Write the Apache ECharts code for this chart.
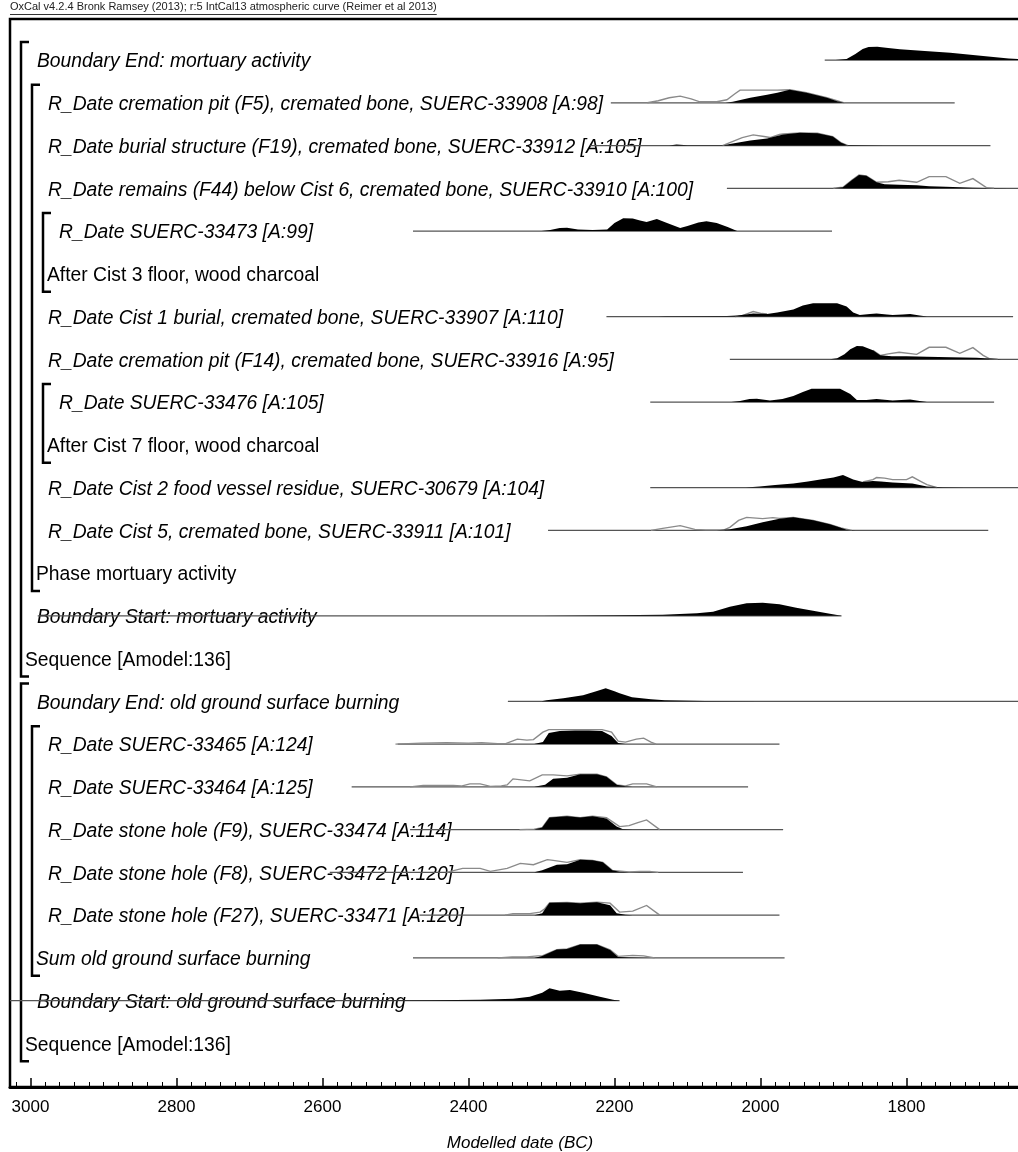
<!DOCTYPE html>
<html>
<head>
<meta charset="utf-8">
<title>OxCal multiplot</title>
<script src="https://cdn.jsdelivr.net/npm/echarts@6/dist/echarts.min.js"></script>
<style>
html,body{margin:0;padding:0;background:#fff;}
#main{width:1018px;height:1152px;}
</style>
</head>
<body>
<div id="main"></div>
<script>
// rows of the plot, top to bottom
var rowLabels = [
  'Boundary End: mortuary activity',
  'R_Date cremation pit (F5), cremated bone, SUERC-33908 [A:98]',
  'R_Date burial structure (F19), cremated bone, SUERC-33912 [A:105]',
  'R_Date remains (F44) below Cist 6, cremated bone, SUERC-33910 [A:100]',
  'R_Date SUERC-33473 [A:99]',
  'After Cist 3 floor, wood charcoal',
  'R_Date Cist 1 burial, cremated bone, SUERC-33907 [A:110]',
  'R_Date cremation pit (F14), cremated bone, SUERC-33916 [A:95]',
  'R_Date SUERC-33476 [A:105]',
  'After Cist 7 floor, wood charcoal',
  'R_Date Cist 2 food vessel residue, SUERC-30679 [A:104]',
  'R_Date Cist 5, cremated bone, SUERC-33911 [A:101]',
  'Phase mortuary activity',
  'Boundary Start: mortuary activity',
  'Sequence [Amodel:136]',
  'Boundary End: old ground surface burning',
  'R_Date SUERC-33465 [A:124]',
  'R_Date SUERC-33464 [A:125]',
  'R_Date stone hole (F9), SUERC-33474 [A:114]',
  'R_Date stone hole (F8), SUERC-33472 [A:120]',
  'R_Date stone hole (F27), SUERC-33471 [A:120]',
  'Sum old ground surface burning',
  'Boundary Start: old ground surface burning',
  'Sequence [Amodel:136]'
];
var rowDepth = [1,2,2,2,3,3,2,2,3,3,2,2,2,1,1,1,2,2,2,2,2,2,1,1];
var rowKind = ['item','item','item','item','item','group','item','item','item','group','item','item',
  'group','item','group','item','item','item','item','item','item','groupi','item','group'];
// brackets: [depth, first row, last row]
var groups = [[1,0,14],[2,1,12],[3,4,5],[3,8,9],[1,15,23],[2,16,21]];

// distributions: range = [from, to] years BC, points = [year BC, relative probability]
var bEndMortRange = [1912, 1600];
var bEndMortPost = [[1897,0],[1882,1],[1870,6],[1860,11],[1852,13],[1840,13.2],[1825,12],[1809,10.7],[1775,9],[1740,7.3],[1695,4],[1660,1.5],[1620,0.3],[1600,0]];

var f5Range = [2205, 1734];
var f5Post = [[2048,0],[2038,1],[2014,5],[1991,8],[1977,10],[1960,13],[1937,10],[1909,5],[1895,1.5],[1885,0]];
var f5Like = [[2155,0],[2140,2],[2125,5],[2110,6.7],[2095,4],[2083,1],[2060,1],[2046,3],[2035,9],[2028,12.7],[1990,12.7],[1977,12.7],[1960,13],[1937,10],[1909,5],[1885,0]];

var f19Range = [2233, 1685];
var f19Post = [[2125,0],[2115,1],[2100,0.3],[2050,0.3],[2042,1.5],[2014,5],[1991,7],[1969,11],[1946,12.7],[1922,12.3],[1901,9],[1890,3],[1882,0.5],[1860,0.3],[1830,0]];
var f19Like = [[2052,0],[2042,3],[2025,8],[2010,10.7],[1995,9],[1987,8],[1974,11],[1969,11.5],[1946,12.7],[1922,12.3],[1901,9],[1890,3],[1880,0]];

var f44Range = [2046, 1600];
var f44Post = [[1900,0],[1887,1],[1875,8],[1865,13.3],[1855,12.5],[1841,6],[1830,4],[1810,3.5],[1786,3],[1769,2],[1746,1.5],[1727,1],[1709,0.5],[1690,0.2],[1660,0]];
var f44Like = [[1900,0],[1887,1],[1875,8],[1865,13.3],[1855,12.5],[1841,6],[1825,6.5],[1810,8],[1786,6],[1769,11.7],[1746,11.7],[1727,5],[1709,9.7],[1690,0.5],[1680,0]];

var s33473Range = [2476, 1902];
var s33473Post = [[2300,0],[2288,1],[2275,3],[2265,3.3],[2250,1.5],[2230,1],[2210,1.5],[2200,8],[2188,12.7],[2175,12.5],[2165,10.5],[2156,9],[2142,12],[2128,8],[2110,3],[2100,5],[2085,8.5],[2074,9.7],[2060,8],[2045,4],[2032,0]];

var cist1Range = [2211, 1654];
var cist1Post = [[2140,0],[2130,0.3],[2046,0.5],[2032,1],[2020,2],[2010,3],[1991,2.5],[1977,4],[1955,7],[1942,11],[1928,13.3],[1895,13.3],[1882,10],[1873,4],[1864,1.5],[1850,2.5],[1841,3],[1827,2],[1819,1.5],[1805,2],[1795,2.5],[1782,1],[1772,0]];
var cist1Like = [[2035,0],[2025,1],[2010,5],[1998,3],[1991,2.5]];

var f14Range = [2042, 1600];
var f14Post = [[1905,0],[1895,1],[1885,5],[1877,10],[1868,13.3],[1860,13],[1846,9],[1836,4],[1820,3],[1800,3],[1772,2.5],[1740,2],[1704,1.5],[1681,0.5],[1670,0]];
var f14Like = [[1846,9],[1836,4],[1825,5.5],[1810,7],[1786,5],[1769,12],[1746,12],[1727,6],[1709,11.7],[1695,4],[1686,0.5],[1675,0]];

var s33476Range = [2151, 1680];
var s33476Post = [[2040,0],[2028,1],[2015,3],[2005,3.3],[1987,1.5],[1970,3],[1955,6],[1942,10],[1930,13.3],[1891,13.3],[1877,8],[1868,2],[1855,2],[1841,3],[1819,1.5],[1795,2.5],[1782,1],[1772,0]];

var cist2Range = [2151, 1600];
var cist2Post = [[2020,0],[2001,1],[1980,2.5],[1955,4],[1935,6],[1918,8],[1900,10],[1887,12.7],[1873,8],[1860,5.7],[1846,6.7],[1835,6],[1819,5],[1792,4],[1772,1],[1750,0.3],[1720,0]];
var cist2Like = [[1860,5.7],[1846,8],[1841,10],[1830,9.5],[1819,8],[1800,8],[1792,10.7],[1780,6],[1772,3],[1758,0]];

var cist5Range = [2291, 1688];
var cist5Post = [[2060,0],[2042,1],[2019,4],[1997,8],[1974,11.7],[1955,13],[1928,10],[1905,6],[1890,2.5],[1882,0.5],[1870,0]];
var cist5Like = [[2150,0],[2134,2],[2110,4.7],[2090,1],[2075,0.5],[2050,0.5],[2042,3],[2030,10],[2019,13],[1997,11.7],[1983,12.7],[1974,12],[1955,13],[1928,10],[1905,6],[1890,2.5],[1875,0]];

var bStartMortRange = [2990, 1889];
var bStartMortPost = [[2300,0],[2202,0.5],[2134,1.2],[2087,2.5],[2065,4],[2042,9],[2019,12.7],[1997,13],[1974,11.7],[1951,8],[1928,5],[1905,2],[1889,0]];

var bEndOldRange = [2346, 1600];
var bEndOldPost = [[2300,0],[2293,1],[2270,3],[2243,6],[2225,10],[2212,13],[2200,10],[2193,8],[2176,4],[2150,2],[2131,1],[2076,0.3],[2000,0]];

var s33465Range = [2497, 1974];
var s33465Post = [[2310,0],[2298,2],[2290,11],[2275,13],[2254,13.5],[2235,13.5],[2217,13],[2204,8],[2195,1],[2185,0]];
var s33465Like = [[2500,0],[2465,1],[2430,1.5],[2400,1],[2382,1.5],[2360,0.5],[2349,0.5],[2333,5],[2320,4],[2311,4.5],[2298,12],[2290,14.5],[2217,14.5],[2204,12],[2195,3],[2185,2],[2170,5],[2160,6],[2150,2],[2143,0]];

var s33464Range = [2560, 2017];
var s33464Post = [[2310,0],[2295,2],[2284,8],[2265,9],[2247,12.7],[2224,12.7],[2211,10],[2197,2],[2185,0.5],[2175,0]];
var s33464Like = [[2480,0],[2462,1.5],[2421,1.5],[2410,0.8],[2398,3],[2384,3],[2370,0.5],[2355,1],[2347,2],[2339,8],[2316,6],[2299,12],[2284,12],[2265,11],[2247,12.7],[2224,12.7],[2211,10],[2197,2],[2185,1],[2175,3],[2156,3],[2142,0]];

var f9Range = [2480, 1969];
var f9Post = [[2310,0],[2299,2],[2289,12],[2265,13.3],[2247,12],[2230,13.3],[2211,11],[2197,3],[2189,0.5],[2175,0]];
var f9Like = [[2330,0],[2310,0.5],[2299,2],[2289,12],[2265,13.3],[2247,12],[2230,13.3],[2211,12],[2203,8],[2193,3],[2180,4],[2168,7],[2156,9.7],[2138,0]];

var f8Range = [2590, 2024];
var f8Post = [[2310,0],[2299,2],[2279,7.7],[2265,8],[2247,12.7],[2230,12],[2216,10],[2203,2],[2193,0.5],[2180,0]];
var f8Like = [[2430,0],[2408,4],[2384,4],[2370,1],[2347,4],[2329,9],[2311,7.7],[2292,12.7],[2284,12],[2265,10],[2247,12.7],[2230,12],[2216,10],[2203,2],[2180,0.5],[2165,1],[2152,1],[2140,0]];

var f27Range = [2467, 1974];
var f27Post = [[2310,0],[2299,2],[2289,12.3],[2265,12.7],[2247,12],[2224,13],[2206,10],[2197,2],[2185,0.5],[2175,0]];
var f27Like = [[2350,0],[2339,1.5],[2316,1.5],[2302,3],[2296,6],[2289,12.3],[2265,12.7],[2247,12],[2224,13],[2206,12],[2193,3],[2175,4],[2156,9.7],[2138,0]];

var sumOldRange = [2476, 1967];
var sumOldPost = [[2310,0],[2299,2],[2279,8.3],[2265,9],[2247,13.3],[2224,13.3],[2206,8],[2195,1],[2180,0.3],[2150,0]];
var sumOldLike = [[2360,0],[2340,1],[2320,1],[2305,2],[2299,2],[2279,8.3],[2265,9],[2247,13.3],[2224,13.3],[2206,8],[2195,1.5],[2175,2.5],[2160,2],[2145,0]];

var bStartOldRange = [3028, 2193];
var bStartOldPost = [[2600,0],[2450,0.3],[2384,0.8],[2339,2],[2316,4],[2299,8],[2289,12.3],[2275,10],[2261,10.7],[2243,8],[2220,4],[2202,1],[2193,0]];

var dists = [
  {row:0, range:bEndMortRange, post:bEndMortPost, like:null},
  {row:1, range:f5Range, post:f5Post, like:f5Like},
  {row:2, range:f19Range, post:f19Post, like:f19Like},
  {row:3, range:f44Range, post:f44Post, like:f44Like},
  {row:4, range:s33473Range, post:s33473Post, like:null},
  {row:6, range:cist1Range, post:cist1Post, like:cist1Like},
  {row:7, range:f14Range, post:f14Post, like:f14Like},
  {row:8, range:s33476Range, post:s33476Post, like:null},
  {row:10, range:cist2Range, post:cist2Post, like:cist2Like},
  {row:11, range:cist5Range, post:cist5Post, like:cist5Like},
  {row:13, range:bStartMortRange, post:bStartMortPost, like:null},
  {row:15, range:bEndOldRange, post:bEndOldPost, like:null},
  {row:16, range:s33465Range, post:s33465Post, like:s33465Like},
  {row:17, range:s33464Range, post:s33464Post, like:s33464Like},
  {row:18, range:f9Range, post:f9Post, like:f9Like},
  {row:19, range:f8Range, post:f8Post, like:f8Like},
  {row:20, range:f27Range, post:f27Post, like:f27Like},
  {row:21, range:sumOldRange, post:sumOldPost, like:sumOldLike},
  {row:22, range:bStartOldRange, post:bStartOldPost, like:null}
];

var FONT = '"Liberation Sans", Arial, Helvetica, sans-serif';
var densScale = 1 / 42.75;   // probability unit -> row units

var chart = echarts.init(document.getElementById('main'));

function renderLabel(params, api) {
  var i = params.dataIndex;
  var kind = rowKind[i];
  var y = api.coord([2000, i])[1] + 2;
  var x = 10 + 11 * rowDepth[i] + (kind === 'item' ? 16 : 4);
  return {
    type: 'text', x: x, y: y,
    style: {
      text: rowLabels[i], fill: '#000', fontSize: 19.3, fontFamily: FONT,
      fontStyle: kind === 'group' ? 'normal' : 'italic',
      align: 'left', verticalAlign: 'middle'
    }
  };
}

function renderGroup(params, api) {
  var g = groups[params.dataIndex];
  var x = 10 + 11 * g[0];
  var y1 = api.coord([2000, g[1] - 0.42])[1];
  var y2 = api.coord([2000, g[2] + 0.42])[1];
  return {
    type: 'polyline',
    shape: {points: [[x + 8, y1], [x, y1], [x, y2], [x + 8, y2]]},
    style: {stroke: '#000', lineWidth: 2.5, fill: null}
  };
}

function renderDist(params, api) {
  var d = dists[params.dataIndex];
  var r = d.row;
  function pt(p) { return api.coord([p[0], r - p[1] * densScale]); }
  var a = api.coord([d.range[0], r]);
  var b = api.coord([d.range[1], r]);
  var kids = [{
    type: 'line', shape: {x1: a[0], y1: a[1], x2: b[0], y2: b[1]},
    style: {stroke: '#555', lineWidth: 1.3}
  }];
  if (d.like) {
    kids.push({type: 'polyline', shape: {points: d.like.map(pt)},
      style: {stroke: '#8a8a8a', lineWidth: 1.4, fill: null}});
  }
  kids.push({type: 'polygon', shape: {points: d.post.map(pt)}, style: {fill: '#000'}});
  return {type: 'group', children: kids};
}

// header underline width
var ctx = document.createElement('canvas').getContext('2d');
ctx.font = '11px ' + FONT;
var headerText = 'OxCal v4.2.4 Bronk Ramsey (2013); r:5 IntCal13 atmospheric curve (Reimer et al 2013)';
var headerW = ctx.measureText(headerText).width;

var option = {
  animation: false,
  backgroundColor: '#fff',
  grid: {
    left: 10, right: -34.5, top: 19, bottom: 65,
    show: true, borderColor: '#000', borderWidth: 2.5,
    containLabel: false, outerBoundsMode: 'none'
  },
  xAxis: {
    type: 'value', inverse: true, min: 1600, max: 3028, interval: 200,
    axisLine: {show: true, onZero: false, lineStyle: {color: '#000', width: 3}},
    axisTick: {show: true, inside: true, length: 9, lineStyle: {color: '#000', width: 1.5}},
    minorTick: {show: true, splitNumber: 10, length: 5, lineStyle: {color: '#000', width: 1}},
    axisLabel: {color: '#000', fontSize: 17, fontFamily: FONT, margin: 12,
      formatter: function (v) { return String(v); }},
    splitLine: {show: false}
  },
  yAxis: {
    type: 'value', inverse: true, min: -0.96, max: 24.02, show: false
  },
  graphic: [
    {type: 'text', left: 10, top: 1, style: {text: headerText, fontSize: 11, fontFamily: FONT, fill: '#222'}},
    {type: 'line', shape: {x1: 10, y1: 14.5, x2: 10 + headerW, y2: 14.5}, style: {stroke: '#333', lineWidth: 1}},
    {type: 'text', x: 520, y: 1143, style: {text: 'Modelled date (BC)', fontSize: 17, fontStyle: 'italic',
      fontFamily: FONT, fill: '#000', align: 'center', verticalAlign: 'middle'}}
  ],
  series: [
    {type: 'custom', name: 'labels', renderItem: renderLabel, silent: true, clip: false,
      data: rowLabels.map(function (l, i) { return [2000, i]; })},
    {type: 'custom', name: 'brackets', renderItem: renderGroup, silent: true, clip: false,
      data: groups.map(function (g) { return [2000, g[1]]; })},
    {type: 'custom', name: 'dists', renderItem: renderDist, silent: true, clip: false,
      data: dists.map(function (d) { return [d.range[0], d.row]; })}
  ]
};

chart.setOption(option);
window.onresize = chart.resize;
</script>
</body>
</html>
